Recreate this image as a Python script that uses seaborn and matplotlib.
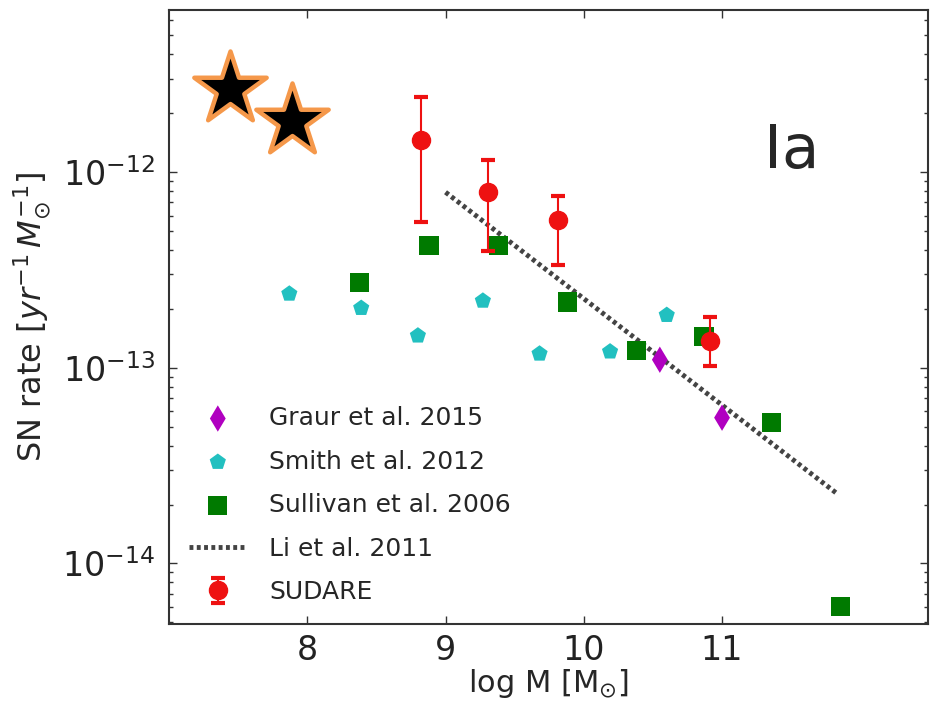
import seaborn as sns
import matplotlib.pyplot as plt
from matplotlib.ticker import NullFormatter

# data (x = log M, y = SN rate)
star_x = [7.44, 7.89]
star_y = [2.65e-12, 1.82e-12]

graur_x = [10.55, 11.00]
graur_y = [1.10e-13, 5.56e-14]

smith_x = [7.87, 8.39, 8.80, 9.27, 9.68, 10.19, 10.60]
smith_y = [2.39e-13, 2.02e-13, 1.46e-13, 2.20e-13, 1.18e-13, 1.21e-13, 1.86e-13]

sull_x = [8.38, 8.88, 9.38, 9.88, 10.38, 10.87, 11.36, 11.86]
sull_y = [2.72e-13, 4.24e-13, 4.24e-13, 2.17e-13, 1.22e-13, 1.44e-13, 5.24e-14, 6.04e-15]

li_x = [9.0, 11.83]
li_y = [7.9e-13, 2.28e-14]

sud_x = [8.82, 9.31, 9.81, 10.91]
sud_y = [1.46e-12, 7.9e-13, 5.69e-13, 1.37e-13]
sud_lo = [5.55e-13, 3.95e-13, 3.36e-13, 1.02e-13]
sud_hi = [2.41e-12, 1.16e-12, 7.55e-13, 1.82e-13]

yticks = [1e-14, 1e-13, 1e-12]
xticks = [8, 9, 10, 11]

sns.set_style("white")
plt.rcParams['font.family'] = ['DejaVu Sans']

fig = plt.figure(figsize=(9.34, 7.02), dpi=100)
ax = fig.add_axes([0.181, 0.111, 0.8126, 0.875])
ax.set_yscale('log')

sns.scatterplot(x=graur_x, y=graur_y, marker='d', s=180, color='#b000c0',
                edgecolor='none', label='Graur et al. 2015', ax=ax, zorder=4)
sns.scatterplot(x=smith_x, y=smith_y, marker='p', s=150, color='#22c0c0',
                edgecolor='none', label='Smith et al. 2012', ax=ax, zorder=3)
sns.scatterplot(x=sull_x, y=sull_y, marker='s', s=190, color='#007a00',
                edgecolor='none', label='Sullivan et al. 2006', ax=ax, zorder=3)
sns.lineplot(x=li_x, y=li_y, color='#444444', lw=3.5, ls=(0, (0.8, 0.7)),
             label='Li et al. 2011', ax=ax, zorder=2)

yerr = [[v - lo for v, lo in zip(sud_y, sud_lo)],
        [hi - v for v, hi in zip(sud_y, sud_hi)]]
ax.errorbar(sud_x, sud_y, yerr=yerr, fmt='o', color='#ee1111', ms=13,
            capsize=5, capthick=3, elinewidth=1.5, label='SUDARE', zorder=5)

sns.scatterplot(x=star_x, y=star_y, marker='*', s=3000, color='black',
                edgecolor='#f5984a', linewidth=3.2, legend=False, ax=ax, zorder=6)

ax.set_xlim(7.0, 12.49)
ax.set_ylim(10**-14.31, 10**-11.17)
ax.set_xticks(xticks)
ax.set_yticks(yticks)
ax.yaxis.set_minor_formatter(NullFormatter())

ax.text(0.82, 0.769, 'Ia', transform=ax.transAxes, fontsize=44,
        ha='center', va='center')

ax.set_xlabel(r'log M [M$_{\odot}$]', fontsize=22, labelpad=0)
ax.set_ylabel(r'SN rate [$yr^{-1}\,M_{\odot}^{-1}$]', fontsize=23, labelpad=6)

ax.tick_params(which='both', direction='in', bottom=True, left=True,
               top=True, right=True, colors='#333333')
ax.tick_params(which='major', length=6, width=1, labelsize=24, labelcolor='#222222')
ax.tick_params(axis='x', which='major', pad=7)
ax.tick_params(axis='y', which='major', pad=10)
ax.tick_params(which='minor', length=3, width=1)
for sp in ax.spines.values():
    sp.set_color('#333333')
    sp.set_linewidth(1.5)

handles, labels = ax.get_legend_handles_labels()
order = ['Graur et al. 2015', 'Smith et al. 2012', 'Sullivan et al. 2006',
         'Li et al. 2011', 'SUDARE']
hmap = dict(zip(labels, handles))
ax.legend([hmap[k] for k in order], order, loc='lower left', frameon=False,
          fontsize=18, handlelength=2.3, handletextpad=0.9, labelspacing=0.78,
          borderaxespad=0.3, borderpad=0.5)

fig.savefig('out.png', dpi=100)
